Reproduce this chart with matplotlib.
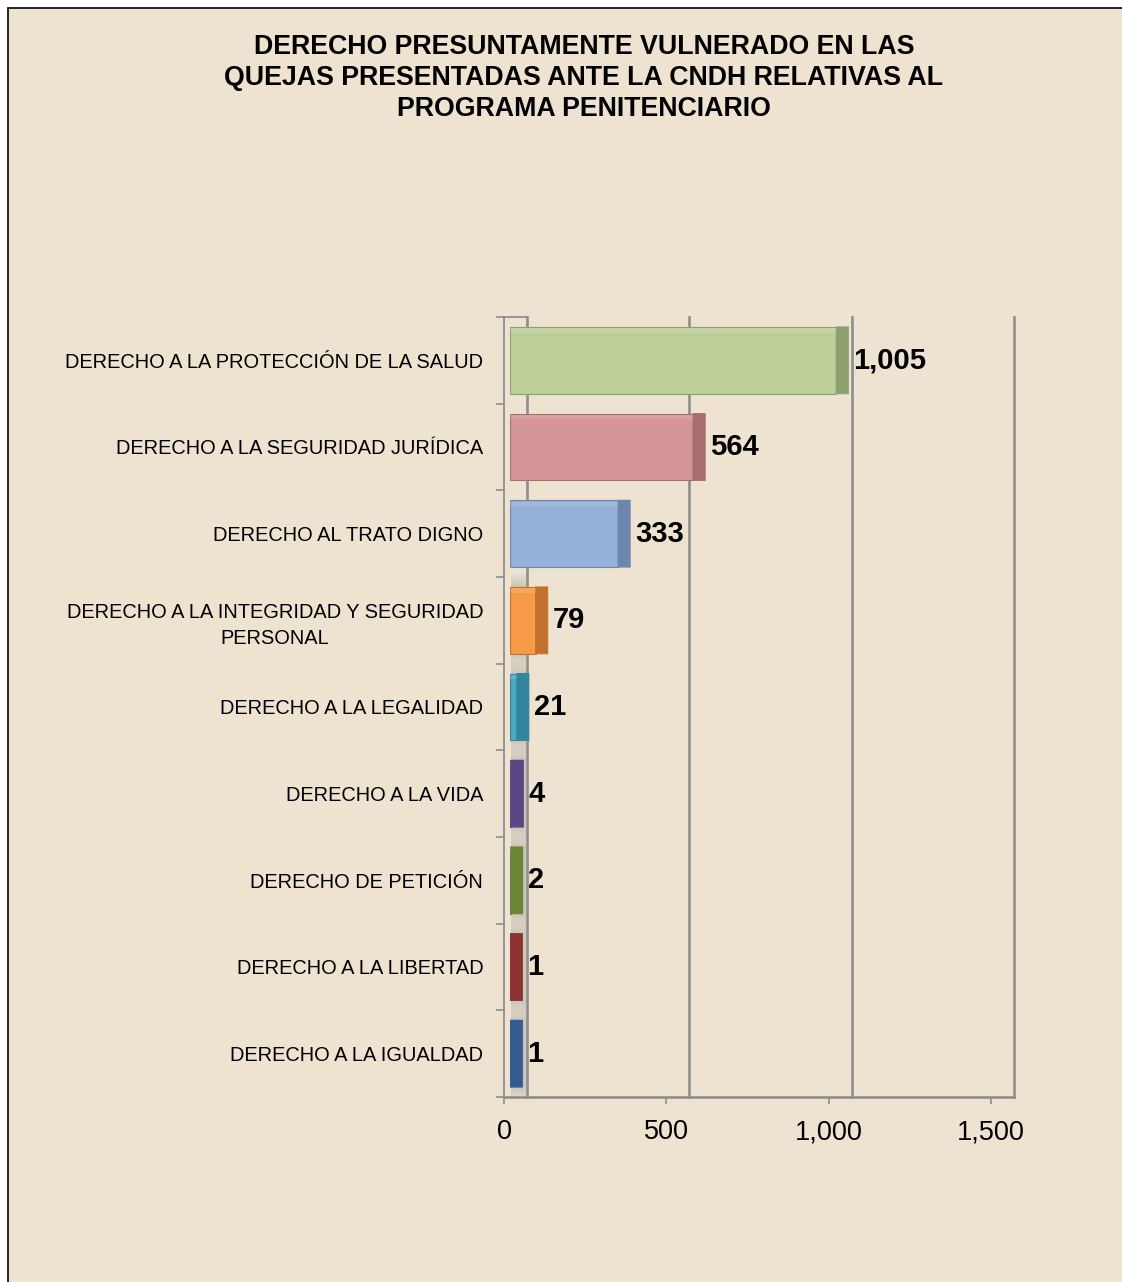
import numpy as np
import matplotlib.pyplot as plt
from matplotlib.patches import Rectangle, FancyBboxPatch
from matplotlib.lines import Line2D

# rights listed top to bottom, with the number of complaints for each
categories = [
    "DERECHO A LA PROTECCIÓN DE LA SALUD",
    "DERECHO A LA SEGURIDAD JURÍDICA",
    "DERECHO AL TRATO DIGNO",
    "DERECHO A LA INTEGRIDAD Y SEGURIDAD\nPERSONAL",
    "DERECHO A LA LEGALIDAD",
    "DERECHO A LA VIDA",
    "DERECHO DE PETICIÓN",
    "DERECHO A LA LIBERTAD",
    "DERECHO A LA IGUALDAD",
]
values = [1005, 564, 333, 79, 21, 4, 2, 1, 1]
value_labels = ["1,005", "564", "333", "79", "21", "4", "2", "1", "1"]
face_colors = ["#bccf99", "#d39595", "#95b1d8", "#f79a48", "#4aabc5",
               "#6a5592", "#7a9742", "#9b3a38", "#3c64a0"]
side_colors = ["#8fa070", "#a86d6f", "#6d86ad", "#c4712e", "#34869c",
               "#5a4882", "#6b8638", "#8c3232", "#355a91"]
x_ticks = [0, 500, 1000, 1500]
x_tick_labels = ["0", "500", "1,000", "1,500"]
title = ("DERECHO PRESUNTAMENTE VULNERADO EN LAS\n"
         "QUEJAS PRESENTADAS ANTE LA CNDH RELATIVAS AL\n"
         "PROGRAMA PENITENCIARIO")

W, H = 1122, 1282
BG = "#eee3d1"
GRID = "#8e8e8e"
X_MAX = 1500
FONT = ["Liberation Sans", "DejaVu Sans"]

# plot box in pixels: front plane, bar plane and back wall are shifted sideways
TOP, BOTTOM = 317, 1097
FRONT_X0, BAR_X0, BACK_X0 = 504, 510, 527
PLANE_W = 487
BAR_DEPTH_PX = 12
BAR_H = 0.77


def rect(x0, width):
    return [x0 / W, 1 - BOTTOM / H, width / W, (BOTTOM - TOP) / H]


fig = plt.figure(figsize=(W / 100, H / 100), dpi=100, facecolor="white")
fig.patches.append(Rectangle((8 / W, -0.01), 1.0, 1 - 8 / H + 0.01,
                             transform=fig.transFigure, facecolor=BG,
                             edgecolor="black", linewidth=1.2, zorder=-10))

fig.text(584 / W, 1 - 78 / H, title, ha="center", va="center",
         fontsize=19.3, fontweight="bold", linespacing=1.25, family=FONT)

n = len(categories)
ypos = np.arange(n)

# back wall with vertical gridlines
ax_back = fig.add_axes(rect(BACK_X0, PLANE_W))
ax_back.set_xlim(0, X_MAX)
ax_back.set_ylim(n - 0.5, -0.5)
ax_back.axis("off")
for t in x_ticks:
    ax_back.axvline(t, color=GRID, lw=1.9, clip_on=False)

# bars with a darker side face
ax_bar = fig.add_axes(rect(BAR_X0, PLANE_W))
ax_bar.set_xlim(0, X_MAX)
ax_bar.set_ylim(n - 0.5, -0.5)
ax_bar.axis("off")
depth = BAR_DEPTH_PX * X_MAX / PLANE_W
for y, v, fc, sc, lab in zip(ypos, values, face_colors, side_colors, value_labels):
    if v < 100:
        # soft grey haze round the thin bars
        for k in range(8):
            pad = 0.02 * (k + 1)
            ax_bar.add_patch(Rectangle((depth * 0.1, y - BAR_H / 2 - pad),
                                       depth * 1.2, BAR_H + 2 * pad,
                                       facecolor="#8a8a8a", alpha=0.045,
                                       lw=0, zorder=2))
    ax_bar.barh(y, v, height=BAR_H, color=fc, edgecolor=sc, lw=0.8, zorder=3)
    ax_bar.barh(y - BAR_H / 2 + 0.04, v, height=0.05, color="white",
                alpha=0.12, lw=0, zorder=4)
    side = FancyBboxPatch((v, y - BAR_H / 2), depth, BAR_H,
                          boxstyle="round,pad=0,rounding_size=0.06",
                          mutation_aspect=1 / (depth * 5), facecolor=sc,
                          edgecolor=sc, lw=0.8, zorder=3)
    ax_bar.add_patch(side)
    ax_bar.annotate(lab, (v + depth, y), xytext=(3.5, 0),
                    textcoords="offset points", ha="left", va="center",
                    fontsize=21, fontweight="bold", family=FONT, zorder=5)

# front plane: left wall, floor, ticks and labels
ax = fig.add_axes(rect(FRONT_X0, PLANE_W))
ax.patch.set_visible(False)
ax.set_xlim(0, X_MAX)
ax.set_ylim(n - 0.5, -0.5)
for s in ["top", "right", "bottom"]:
    ax.spines[s].set_visible(False)
ax.spines["left"].set_color(GRID)
ax.spines["left"].set_linewidth(1.3)

ax.set_yticks(np.arange(n + 1) - 0.5)
ax.set_yticklabels([])
ax.tick_params(axis="y", which="major", length=6, width=1.2, color=GRID,
               direction="out")
ax.set_yticks(ypos, minor=True)
ylabels = ax.set_yticklabels(categories, minor=True, fontsize=14.4,
                             family=FONT, multialignment="center")
for t in ylabels:
    t.set_linespacing(1.45)
ax.tick_params(axis="y", which="minor", length=0, pad=15)

ax.set_xticks(x_ticks)
ax.set_xticklabels(x_tick_labels, fontsize=19.5, family=FONT)
ax.tick_params(axis="x", length=5, width=1.2, color=GRID, direction="out",
               pad=11)

back_shift = (BACK_X0 - FRONT_X0) * X_MAX / PLANE_W
floor = Line2D([0, X_MAX + back_shift], [n - 0.5, n - 0.5], color=GRID,
               lw=1.9, clip_on=False)
cap = Line2D([0, back_shift], [-0.5, -0.5], color=GRID, lw=1.3, clip_on=False)
ax.add_line(floor)
ax.add_line(cap)

fig.savefig("out.png", dpi=100, facecolor=fig.get_facecolor())
